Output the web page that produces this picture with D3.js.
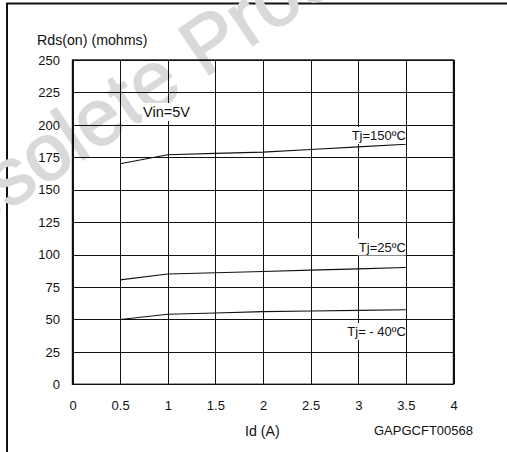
<!DOCTYPE html>
<html>
<head>
<meta charset="utf-8">
<script src="https://cdn.jsdelivr.net/npm/d3@7"></script>
<style>
  body { margin: 0; background: #fff; }
  svg { display: block; font-family: "Liberation Sans", Arial, sans-serif; }
</style>
</head>
<body>
<div id="chart"></div>
<script>
// Id (A) sample points
const idValues = [0.5, 1, 1.5, 2, 2.5, 3, 3.5];
// Rds(on) in mohms for each junction temperature
const rds150 = [170, 177, 178, 179, 181, 183, 185];
const rds25 = [80.5, 85, 86, 87, 88, 89, 90];
const rdsMinus40 = [50, 54, 55, 56, 56.5, 57, 57.5];

const xTicks = [0, 0.5, 1, 1.5, 2, 2.5, 3, 3.5, 4];
const yTicks = [0, 25, 50, 75, 100, 125, 150, 175, 200, 225, 250];

const curveLabels = ["Tj=150ºC", "Tj=25ºC", "Tj= - 40ºC"];

!(function (d3) {
  const width = 507;
  const height = 452;
  const margin = { top: 60, left: 72.5, right: 53.5, bottom: 67.7 };
  const w = width - margin.left - margin.right;
  const h = height - margin.top - margin.bottom;

  const svg = d3
    .select("#chart")
    .append("svg")
    .attr("width", width)
    .attr("height", height);

  // page frame (top and left rules)
  svg.append("line")
    .attr("x1", 6).attr("x2", width)
    .attr("y1", 3.5).attr("y2", 3.5)
    .attr("stroke", "#111").attr("stroke-width", 2);
  svg.append("line")
    .attr("x1", 7).attr("x2", 7)
    .attr("y1", 3).attr("y2", height)
    .attr("stroke", "#111").attr("stroke-width", 2);

  // watermark
  svg.append("text")
    .attr("transform", "translate(-80,270)rotate(-34)")
    .attr("font-size", 80)
    .attr("fill", "#d9d9d9")
    .attr("stroke", "#d9d9d9")
    .attr("stroke-width", 1.5)
    .text("Obsolete Product");

  const x = d3.scaleLinear().domain([0, 4]).range([0, w]);
  const y = d3.scaleLinear().domain([0, 250]).range([h, 0]);

  const g = svg.append("g")
    .attr("transform", "translate(" + margin.left + "," + margin.top + ")");

  // grid + tick labels through the axes
  const yAxis = g.append("g")
    .call(d3.axisLeft(y).tickValues(yTicks).tickSize(-w).tickPadding(12.5));
  const xAxis = g.append("g")
    .attr("transform", "translate(0," + h + ")")
    .call(
      d3.axisBottom(x)
        .tickValues(xTicks)
        .tickSize(-h)
        .tickPadding(16.5)
        .tickFormat((d) => String(d))
    );

  [xAxis, yAxis].forEach((a) => {
    a.select(".domain").remove();
    a.selectAll("line")
      .attr("stroke", "#111")
      .attr("shape-rendering", "crispEdges");
    a.selectAll("text")
      .attr("fill", "#111")
      .style("font-size", "13px")
      .style("font-family", "Liberation Sans, Arial, sans-serif");
  });

  // plot border
  g.append("rect")
    .attr("width", w)
    .attr("height", h)
    .attr("fill", "none")
    .attr("stroke", "#111")
    .attr("stroke-width", 1.4);

  // curves
  const line = d3.line()
    .x((d, i) => x(idValues[i]))
    .y((d) => y(d));

  [rds150, rds25, rdsMinus40].forEach((series) => {
    g.append("path")
      .datum(series)
      .attr("fill", "none")
      .attr("stroke", "#111")
      .attr("stroke-width", 1.1)
      .attr("d", line);
  });

  // labels with white boxes behind them
  function boxedLabel(text, px, py, anchor, size) {
    const lg = g.append("g");
    const rect = lg.append("rect").attr("fill", "#fff");
    const t = lg.append("text")
      .attr("x", px)
      .attr("y", py)
      .attr("text-anchor", anchor)
      .attr("font-size", size)
      .attr("fill", "#111")
      .text(text);
    const bb = t.node().getBBox();
    rect.attr("x", bb.x - 1).attr("y", bb.y - 1)
      .attr("width", bb.width + 1).attr("height", bb.height + 2);
  }

  const labelY = [140, 251.5, 336];
  curveLabels.forEach((lab, i) => {
    boxedLabel(lab, x(3.5), labelY[i] - margin.top, "end", 13);
  });
  boxedLabel("Vin=5V", 143 - margin.left, 117 - margin.top, "start", 14.5);

  // axis titles
  svg.append("text")
    .attr("x", 37).attr("y", 45)
    .attr("font-size", 14.2)
    .attr("fill", "#111")
    .text("Rds(on) (mohms)");
  svg.append("text")
    .attr("x", 245).attr("y", 435.5)
    .attr("font-size", 14.2)
    .attr("fill", "#111")
    .text("Id (A)");
  svg.append("text")
    .attr("x", 374).attr("y", 434.5)
    .attr("font-size", 13)
    .attr("fill", "#111")
    .text("GAPGCFT00568");
})(d3);
</script>
</body>
</html>
